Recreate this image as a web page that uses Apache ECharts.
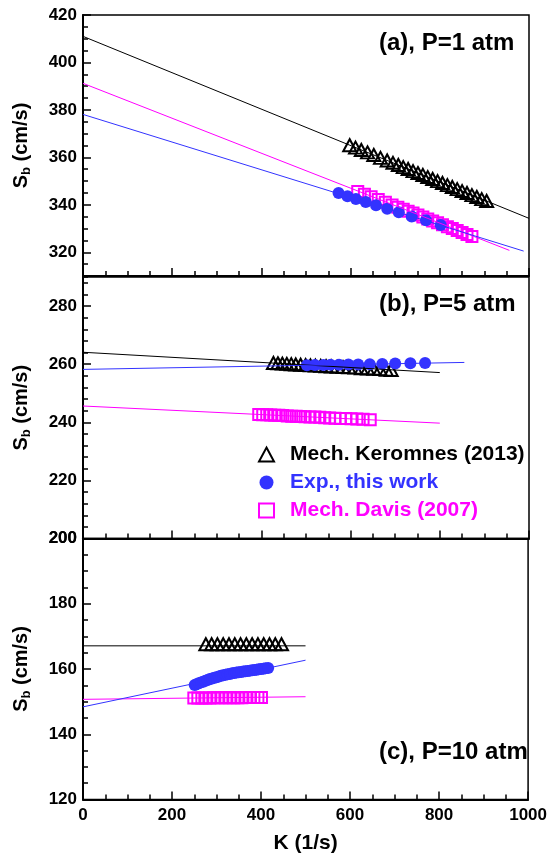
<!DOCTYPE html>
<html>
<head>
<meta charset="utf-8">
<script src="https://cdn.jsdelivr.net/npm/echarts@6/dist/echarts.min.js"></script>
<style>
html,body{margin:0;padding:0;background:#fff;}
#main{width:550px;height:856px;}
</style>
</head>
<body>
<div id="main"></div>
<script>
// (a) P=1 atm
var keroA_K = [598, 611, 624, 638, 652, 667, 682, 695, 707, 718, 729, 740, 751, 762, 773, 784, 795, 806, 817, 828, 839, 850, 861, 872, 883, 894, 905];
var keroA_S = [365.1, 364.1, 363.1, 362.1, 361.0, 359.8, 358.7, 357.7, 356.8, 355.9, 355.1, 354.2, 353.4, 352.6, 351.7, 350.9, 350.0, 349.2, 348.3, 347.5, 346.6, 345.8, 345.0, 344.1, 343.3, 342.4, 341.6];
var expA_K = [573, 593, 612, 634, 657, 682, 708, 737, 769, 802];
var expA_S = [345.0, 343.6, 342.5, 341.2, 339.8, 338.3, 336.9, 335.1, 333.5, 331.5];
var davisA_K = [616, 631, 646, 662, 678, 693, 706, 718, 729, 740, 751, 762, 773, 784, 795, 806, 817, 828, 839, 850, 861, 872];
var davisA_S = [345.6, 344.5, 343.4, 342.2, 341.1, 339.9, 339.0, 338.1, 337.3, 336.5, 335.7, 334.9, 334.0, 333.2, 332.4, 331.6, 330.8, 330.0, 329.2, 328.3, 327.5, 326.7];
var keroA_fit = [[0, 411.0], [1000, 334.3]];
var expA_fit = [[0, 378.1], [988, 320.5]];
var davisA_fit = [[0, 391.2], [956, 320.8]];

// (b) P=5 atm
var keroB_K = [427, 437, 447, 457, 467, 477, 488, 499, 510, 521, 533, 545, 557, 570, 583, 596, 610, 624, 638, 652, 666, 680, 691];
var keroB_S = [260.4, 260.3, 260.2, 260.1, 260.0, 259.9, 259.8, 259.7, 259.6, 259.5, 259.4, 259.3, 259.2, 259.1, 259.0, 258.9, 258.8, 258.6, 258.5, 258.4, 258.3, 258.1, 258.0];
var expB_K = [502, 520, 539, 555, 574, 595, 617, 643, 671, 700, 734, 767];
var expB_S = [259.6, 259.7, 259.7, 259.8, 259.8, 259.9, 259.9, 260.0, 260.1, 260.2, 260.3, 260.4];
var davisB_K = [394, 403, 412, 421, 430, 439, 448, 458, 468, 478, 488, 498, 509, 520, 531, 542, 553, 565, 577, 589, 601, 614, 628, 644];
var davisB_S = [242.7, 242.6, 242.6, 242.5, 242.4, 242.4, 242.3, 242.2, 242.1, 242.1, 242.0, 241.9, 241.8, 241.8, 241.7, 241.6, 241.5, 241.4, 241.3, 241.3, 241.2, 241.1, 241.0, 240.9];
var keroB_fit = [[0, 264.1], [800, 257.1]];
var expB_fit = [[0, 258.2], [855, 260.6]];
var davisB_fit = [[0, 245.6], [800, 239.7]];

// (c) P=10 atm
var keroC_K = [276, 289, 302, 315, 328, 341, 354, 367, 380, 393, 406, 419, 432, 446];
var keroC_S = [167.6, 167.6, 167.6, 167.6, 167.6, 167.6, 167.6, 167.6, 167.6, 167.6, 167.6, 167.6, 167.6, 167.6];
var expC_K = [251, 255, 260, 265, 270, 275, 280, 285, 290, 295, 300, 305, 310, 315, 320, 325, 330, 335, 340, 345, 350, 355, 360, 365, 370, 375, 380, 385, 390, 395, 400, 405, 410, 416];
var expC_S = [155.1, 155.3, 155.6, 155.9, 156.1, 156.4, 156.6, 156.9, 157.1, 157.3, 157.5, 157.7, 157.9, 158.1, 158.2, 158.4, 158.5, 158.7, 158.8, 158.9, 159.0, 159.1, 159.2, 159.3, 159.4, 159.5, 159.6, 159.7, 159.8, 159.9, 160.0, 160.1, 160.2, 160.3];
var davisC_K = [249, 258, 267, 276, 285, 294, 303, 312, 321, 330, 339, 348, 357, 366, 375, 384, 393, 401];
var davisC_S = [151.1, 151.1, 151.1, 151.1, 151.1, 151.2, 151.2, 151.2, 151.2, 151.2, 151.2, 151.2, 151.2, 151.3, 151.3, 151.3, 151.3, 151.3];
var keroC_fit = [[0, 167.1], [500, 167.1]];
var expC_fit = [[0, 148.4], [500, 162.7]];
var davisC_fit = [[0, 150.7], [500, 151.5]];

var panelTitles = ['(a), P=1 atm', '(b), P=5 atm', '(c), P=10 atm'];
var yRanges = [[310, 420], [200, 290], [120, 200]];
var yMinorStep = [5, 4, 5];
var yMajorTicks = [[320, 340, 360, 380, 400, 420], [200, 220, 240, 260, 280], [120, 140, 160, 180, 200]];
var xMajorTicks = [0, 200, 400, 600, 800, 1000];
var legendNames = ['Mech. Keromnes (2013)', 'Exp., this work', 'Mech. Davis (2007)'];

var FONT = 'Liberation Sans, Arial, sans-serif';
var BLACK = '#000000', BLUE = '#3333ff', MAGENTA = '#ff00ff';

var myChart = echarts.init(document.getElementById('main'));

function pairs(xs, ys) {
    var out = [];
    for (var i = 0; i < xs.length; i++) {
        out.push([xs[i], ys[i]]);
    }
    return out;
}

function drawing() {
    var grids = [
        {left: 83, right: 21, top: 15, height: 261},
        {left: 83, right: 21, top: 277, height: 261.5},
        {left: 83, right: 21, top: 538.5, height: 261}
    ];
    for (var g = 0; g < grids.length; g++) {
        grids[g].show = true;
        grids[g].borderColor = BLACK;
        grids[g].borderWidth = 1.5;
        grids[g].backgroundColor = 'transparent';
    }

    var xAxes = [], yAxes = [];
    for (var i = 0; i < 3; i++) {
        var last = (i == 2);
        // minor ticks + labels
        xAxes.push({
            type: 'value', gridIndex: i, position: 'bottom', min: 0, max: 1000, interval: 50,
            name: last ? 'K (1/s)' : '', nameLocation: 'middle', nameGap: 33,
            nameTextStyle: {fontSize: 21, fontWeight: 'bold', fontFamily: FONT, color: BLACK},
            axisLine: {show: true, onZero: false, lineStyle: {color: BLACK, width: 2}},
            axisTick: {show: true, inside: true, length: 5, lineStyle: {color: BLACK, width: 1.5}},
            axisLabel: {
                show: last, interval: 0, margin: 7,
                fontSize: 17, fontWeight: 'bold', fontFamily: FONT, color: BLACK,
                formatter: function (v) { return v % 200 === 0 ? String(v) : ''; }
            },
            splitLine: {show: false}
        });
        // major ticks
        xAxes.push({
            type: 'value', gridIndex: i, position: 'bottom', min: 0, max: 1000, interval: 200,
            axisLine: {show: false},
            axisTick: {show: true, inside: true, length: 8, customValues: xMajorTicks, lineStyle: {color: BLACK, width: 1.5}},
            axisLabel: {show: false},
            splitLine: {show: false}
        });
        yAxes.push({
            type: 'value', gridIndex: i, position: 'left', min: yRanges[i][0], max: yRanges[i][1], interval: yMinorStep[i],
            name: '{s|S}{sub|b}{s| (cm/s)}', nameLocation: 'middle', nameGap: 50, nameRotate: 90,
            nameTextStyle: {
                fontFamily: FONT, color: BLACK,
                rich: {
                    s: {fontSize: 20, fontWeight: 'bold', fontFamily: FONT, color: BLACK, lineHeight: 24},
                    sub: {fontSize: 13, fontWeight: 'bold', fontFamily: FONT, color: BLACK, lineHeight: 14, verticalAlign: 'bottom'}
                }
            },
            axisLine: {show: true, onZero: false, lineStyle: {color: BLACK, width: 2}},
            axisTick: {show: true, inside: true, length: 5, lineStyle: {color: BLACK, width: 1.5}},
            axisLabel: {
                show: true, interval: 0, margin: 6,
                fontSize: 17, fontWeight: 'bold', fontFamily: FONT, color: BLACK,
                formatter: function (v) { return v % 20 === 0 ? String(v) : ''; }
            },
            splitLine: {show: false}
        });
        yAxes.push({
            type: 'value', gridIndex: i, position: 'left', min: yRanges[i][0], max: yRanges[i][1], interval: yMinorStep[i],
            axisLine: {show: false},
            axisTick: {show: true, inside: true, length: 8, customValues: yMajorTicks[i], lineStyle: {color: BLACK, width: 1.5}},
            axisLabel: {show: false},
            splitLine: {show: false}
        });
    }

    var panels = [
        {kero: pairs(keroA_K, keroA_S), exp: pairs(expA_K, expA_S), davis: pairs(davisA_K, davisA_S),
         keroFit: keroA_fit, expFit: expA_fit, davisFit: davisA_fit},
        {kero: pairs(keroB_K, keroB_S), exp: pairs(expB_K, expB_S), davis: pairs(davisB_K, davisB_S),
         keroFit: keroB_fit, expFit: expB_fit, davisFit: davisB_fit},
        {kero: pairs(keroC_K, keroC_S), exp: pairs(expC_K, expC_S), davis: pairs(davisC_K, davisC_S),
         keroFit: keroC_fit, expFit: expC_fit, davisFit: davisC_fit}
    ];

    var series = [];
    for (var p = 0; p < panels.length; p++) {
        var xi = p * 2, yi = p * 2;
        var fits = [[panels[p].keroFit, BLACK, 'fitK'], [panels[p].davisFit, MAGENTA, 'fitD'], [panels[p].expFit, BLUE, 'fitE']];
        for (var f = 0; f < fits.length; f++) {
            series.push({
                name: fits[f][2] + p, type: 'line', xAxisIndex: xi, yAxisIndex: yi,
                data: fits[f][0], showSymbol: false, symbol: 'none', silent: true,
                lineStyle: {color: fits[f][1], width: 1}
            });
        }
        series.push({
            name: legendNames[0], type: 'scatter', xAxisIndex: xi, yAxisIndex: yi,
            data: panels[p].kero, symbol: 'triangle', symbolSize: [13, 12],
            itemStyle: {color: 'rgba(255,255,255,0)', borderColor: BLACK, borderWidth: 2, opacity: 1}
        });
        series.push({
            name: legendNames[2], type: 'scatter', xAxisIndex: xi, yAxisIndex: yi,
            data: panels[p].davis, symbol: 'rect', symbolSize: 11,
            itemStyle: {color: 'rgba(255,255,255,0)', borderColor: MAGENTA, borderWidth: 2, opacity: 1}
        });
        series.push({
            name: legendNames[1], type: 'scatter', xAxisIndex: xi, yAxisIndex: yi,
            data: panels[p].exp, symbol: 'circle', symbolSize: 12,
            itemStyle: {color: BLUE, opacity: 1}
        });
    }

    var titles = [];
    var titleTops = [31, 292, 740];
    for (var t = 0; t < panelTitles.length; t++) {
        titles.push({
            text: panelTitles[t], left: 379, top: titleTops[t], padding: 0,
            textStyle: {fontSize: 24, fontWeight: 'bold', fontFamily: FONT, color: BLACK}
        });
    }

    var option = {
        animation: false,
        backgroundColor: '#ffffff',
        title: titles,
        grid: grids,
        xAxis: xAxes,
        yAxis: yAxes,
        legend: {
            orient: 'vertical', left: 258, top: 444, padding: 0,
            itemWidth: 15, itemHeight: 14, itemGap: 7, selectedMode: false,
            data: [
                {name: legendNames[0], textStyle: {color: BLACK}},
                {name: legendNames[1], textStyle: {color: BLUE}},
                {name: legendNames[2], textStyle: {color: MAGENTA}}
            ],
            textStyle: {fontSize: 21, fontWeight: 'bold', fontFamily: FONT, lineHeight: 21, padding: [0, 0, 0, 11]}
        },
        series: series
    };
    myChart.setOption(option);
}

drawing();
</script>
</body>
</html>
